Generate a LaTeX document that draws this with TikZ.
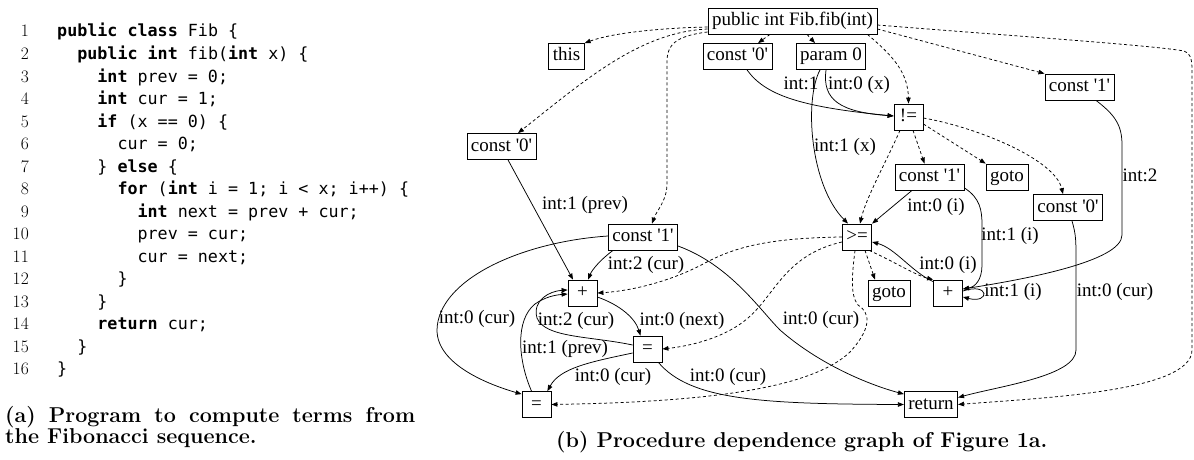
\documentclass[tikz,border=0pt]{standalone}
\usepackage{fontspec}
\newfontfamily\gfont{Liberation Serif}
\newfontfamily\codefont{DejaVu Sans Mono}
\usetikzlibrary{arrows.meta}
\newcommand{\kwd}[1]{\textbf{#1}}
\begin{document}
\begin{tikzpicture}[x=1pt,y=-1pt,
  box/.style={draw, line width=0.8pt, rectangle, inner xsep=4pt, inner ysep=0pt,
    minimum height=26pt, minimum width=29pt, text height=13pt, text depth=4pt,
    font=\gfont\fontsize{19}{19}\selectfont},
  lbl/.style={inner sep=0pt, text height=13pt, text depth=4pt, font=\gfont\fontsize{19}{19}\selectfont},
  dep/.style={draw, line width=0.75pt, dash pattern=on 3pt off 2.5pt, -{Triangle[length=6pt,width=4.5pt]}},
  dat/.style={draw, line width=0.75pt, -{Triangle[length=6pt,width=4.5pt]}},
  cl/.style={anchor=base west, inner sep=0pt, font=\codefont\fontsize{16.7}{16.7}\selectfont},
  ln/.style={anchor=base east, inner sep=0pt, font=\fontsize{17.5}{17.5}\selectfont},
  captxt/.style={anchor=base west, inner sep=0pt, font=\bfseries\fontsize{21.5}{21.5}\selectfont}
]
\useasboundingbox (0,0) rectangle (1194,460);

% ---------- code ----------
\node[ln] (n1) at (29,37) {1};
\node[ln] (n2) at (29,59.5) {2};
\node[ln] (n3) at (29,82) {3};
\node[ln] (n4) at (29,104.5) {4};
\node[ln] (n5) at (29,127) {5};
\node[ln] (n6) at (29,149.5) {6};
\node[ln] (n7) at (29,172) {7};
\node[ln] (n8) at (29,194.5) {8};
\node[ln] (n9) at (29,217) {9};
\node[ln] (n10) at (29,239.5) {10};
\node[ln] (n11) at (29,262) {11};
\node[ln] (n12) at (29,284.5) {12};
\node[ln] (n13) at (29,307) {13};
\node[ln] (n14) at (29,329.5) {14};
\node[ln] (n15) at (29,352) {15};
\node[ln] (n16) at (29,374.5) {16};

\node[cl] (t1) at (57,37) {\kwd{public} \kwd{class} Fib \{};
\node[cl] (t2) at (77.1,59.5) {\kwd{public} \kwd{int} fib(\kwd{int} x) \{};
\node[cl] (t3) at (97.2,82) {\kwd{int} prev = 0;};
\node[cl] (t4) at (97.2,104.5) {\kwd{int} cur = 1;};
\node[cl] (t5) at (97.2,127) {\kwd{if} (x == 0) \{};
\node[cl] (t6) at (117.3,149.5) {cur = 0;};
\node[cl] (t7) at (97.2,172) {\} \kwd{else} \{};
\node[cl] (t8) at (117.3,194.5) {\kwd{for} (\kwd{int} i = 1; i < x; i++) \{};
\node[cl] (t9) at (137.4,217) {\kwd{int} next = prev + cur;};
\node[cl] (t10) at (137.4,239.5) {prev = cur;};
\node[cl] (t11) at (137.4,262) {cur = next;};
\node[cl] (t12) at (117.3,284.5) {\}};
\node[cl] (t13) at (97.2,307) {\}};
\node[cl] (t14) at (97.2,329.5) {\kwd{return} cur;};
\node[cl] (t15) at (77.1,352) {\}};
\node[cl] (t16) at (57,374.5) {\}};

\node[captxt] (capa1) at (5,422) {\makebox[410pt][s]{(a) Program to compute terms from}};
\node[captxt] (capa2) at (5,443) {the Fibonacci sequence.};
\node[captxt] (capb) at (556,447) {(b) Procedure dependence graph of Figure 1a.};

% ---------- graph nodes ----------
\node[box] (top) at (792.5,21) {public int Fib.fib(int)};
\node[box] (this) at (566.5,56.5) {this};
\node[box] (c0a) at (737.5,56.5) {const '0'};
\node[box] (p0) at (831,56.5) {param 0};
\node[box] (c1r) at (1079.5,87) {const '1'};
\node[box] (ne) at (908.5,117) {!=};
\node[box] (c0l) at (501.5,146.5) {const '0'};
\node[box] (c1m) at (929.5,177) {const '1'};
\node[box] (goto1) at (1007,177) {goto};
\node[box] (c0r) at (1068,207.5) {const '0'};
\node[box] (c1l) at (643,237) {const '1'};
\node[box] (ge) at (857,237) {>=};
\node[box] (plus1) at (582.5,293) {+};
\node[box] (goto2) at (889,293) {goto};
\node[box] (plus2) at (948,293) {+};
\node[box] (eq1) at (647.5,349) {=};
\node[box] (eq2) at (536.5,404.5) {=};
\node[box] (ret) at (931,404.5) {return};

% ---------- control (dashed) edges ----------
\path[dep] ([yshift=-6pt]top.west) .. controls (660,28) and (612,33) .. (this.north east);
\path[dep] ([yshift=-8pt]top.west) .. controls (640,32) and (585,80) .. ([xshift=16.5pt]c0l.north);
\path[dep] ([yshift=-11pt]top.west) .. controls (675,36) and (667,45) .. (667,62) -- (667,185) .. controls (667,200) and (656,212) .. ([xshift=9pt]c1l.north);
\path[dep] ([xshift=-22.5pt]top.south) -- ([xshift=20.5pt]c0a.north);
\path[dep] ([xshift=14.5pt]top.south) -- ([xshift=-16pt]p0.north);
\path[dep] ([xshift=-10pt]top.south east) .. controls (892,55) and (908,72) .. (ne.north);
\path[dep] ([yshift=-8pt]top.east) -- (c1r.north west);
\path[dep] ([yshift=-4pt]top.east) .. controls (1000,35) and (1150,45) .. (1184,51) .. controls (1190,53) and (1192,58) .. (1192,70) -- (1192,350) .. controls (1192,392) and (1040,398) .. (ret.east);
\path[dep] ([xshift=4.5pt]ne.south) -- ([xshift=-5pt]c1m.north);
\path[dep] ([yshift=-7pt]ne.east) -- (goto1.north west);
\path[dep] ([yshift=-1pt]ne.east) .. controls (980,128) and (1055,160) .. ([xshift=-5pt]c0r.north);
\path[dep] ([xshift=-8.5pt]ne.south) .. controls (886,162) and (866,198) .. ([xshift=3pt]ge.north);
\path[dep] (ge.west) .. controls (760,238) and (730,250) .. (705,263) .. controls (670,282) and (630,291) .. (plus1.east);
\path[dep] ([yshift=-5pt]ge.west) .. controls (785,255) and (775,295) .. (748,318) .. controls (725,338) and (690,346) .. (eq1.east);
\path[dep] ([xshift=8pt]ge.south) -- ([xshift=-14pt]goto2.north);
\path[dep] ([xshift=-3pt]ge.south east) .. controls (895,262) and (915,275) .. (plus2.north west);
\path[dep] ([xshift=-2pt]ge.south) .. controls (852,275) and (850,295) .. (858,305) .. controls (872,314) and (870,330) .. (850,352) .. controls (810,390) and (700,402) .. (eq2.east);

% ---------- data (solid) edges ----------
\path[dat] ([xshift=9.5pt]c0a.south) .. controls (765,95) and (800,107) .. ([yshift=1pt]ne.west);
\path[dat] ([xshift=-5pt]p0.south) .. controls (822,100) and (840,112) .. ([yshift=1pt]ne.west);
\path[dat] ([xshift=-11pt]p0.south) .. controls (804,100) and (810,185) .. ([xshift=-9pt]ge.north);
\path[dat] ([xshift=-17.5pt]c1m.south) -- (ge.north east);
\path[dat] ([yshift=-11pt]c1m.east) .. controls (980,198) and (982,210) .. (982,225) -- (982,265) .. controls (982,280) and (975,287) .. ([yshift=4pt]plus2.east);
\path[dat] ([yshift=-2pt]plus2.north west) .. controls (912,272) and (895,248) .. ([yshift=-5pt]ge.east);
\path[dat] ([yshift=2pt]plus2.east) .. controls (990,282) and (990,304) .. ([yshift=-4pt]plus2.east);
\path[dat] ([xshift=16.5pt]c1r.south) .. controls (1115,115) and (1122,125) .. (1122,145) -- (1122,235) .. controls (1122,262) and (1020,280) .. ([yshift=4pt]plus2.east);
\path[dat] ([xshift=4pt]c0r.south) .. controls (1076,235) and (1076,240) .. (1076,260) -- (1076,350) .. controls (1076,376) and (1000,386) .. ([yshift=7pt]ret.east);
\path[dat] ([xshift=6.5pt]c0l.south) -- ([xshift=-9.5pt]plus1.north);
\path[dat] ([xshift=-30pt]c1l.south) .. controls (600,260) and (592,270) .. ([xshift=5.5pt]plus1.north);
\path[dat] ([yshift=1pt]c1l.west) .. controls (520,242) and (438,280) .. (437,330) .. controls (437,365) and (490,385) .. ([yshift=-3pt]eq2.north west);
\path[dat] ([yshift=-9pt]c1l.east) .. controls (730,265) and (760,310) .. (780,330) .. controls (820,365) and (870,385) .. ([yshift=-3pt]ret.north west);
\path[dat] ([yshift=-4pt]plus1.east) .. controls (620,305) and (635,318) .. ([xshift=-7pt]eq1.north);
\path[dat] ([yshift=4pt]eq1.west) .. controls (590,336) and (545,338) .. (537,318) .. controls (532,300) and (550,291) .. ([yshift=3pt]plus1.west);
\path[dat] ([xshift=-5pt]eq2.north) .. controls (518,360) and (515,320) .. (535,304) .. controls (545,297) and (555,295) .. ([yshift=-1pt]plus1.west);
\path[dat] ([yshift=-4pt]eq1.west) .. controls (590,362) and (560,368) .. ([xshift=-4pt]eq2.north east);
\path[dat] ([xshift=-4pt]eq1.south east) .. controls (690,400) and (760,404) .. (ret.west);

% ---------- edge labels ----------
\node[lbl] (l1) at (801,85) {int:1};
\node[lbl] (l2) at (859,85) {int:0 (x)};
\node[lbl] (l3) at (845,147) {int:1 (x)};
\node[lbl] (l4) at (936,207) {int:0 (i)};
\node[lbl] (l5) at (1010,236) {int:1 (i)};
\node[lbl] (l6) at (948,265) {int:0 (i)};
\node[lbl] (l7) at (1013,292) {int:1 (i)};
\node[lbl] (l8) at (1115,292) {int:0 (cur)};
\node[lbl] (l9) at (1140,177) {int:2};
\node[lbl] (l10) at (585,205) {int:1 (prev)};
\node[lbl] (l11) at (646,265) {int:2 (cur)};
\node[lbl] (l12) at (477,319) {int:0 (cur)};
\node[lbl] (l13) at (576,321) {int:2 (cur)};
\node[lbl] (l14) at (682,321) {int:0 (next)};
\node[lbl] (l15) at (565,349) {int:1 (prev)};
\node[lbl] (l16) at (613,377) {int:0 (cur)};
\node[lbl] (l17) at (728,377) {int:0 (cur)};
\node[lbl] (l18) at (821,320) {int:0 (cur)};
\end{tikzpicture}
\end{document}
